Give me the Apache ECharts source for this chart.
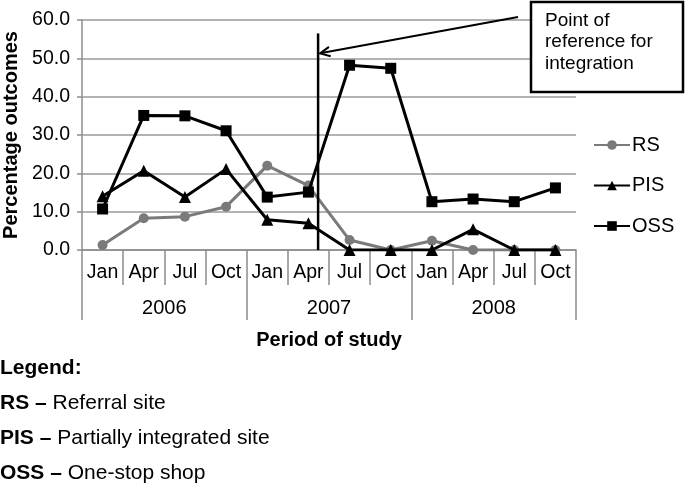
<!DOCTYPE html>
<html>
<head>
<meta charset="utf-8">
<script src="https://cdn.jsdelivr.net/npm/echarts@6/dist/echarts.min.js"></script>
<style>
html,body{margin:0;padding:0;background:#fff;}
#main{width:685px;height:486px;}
</style>
</head>
<body>
<div id="main"></div>
<script>
const months = ['Jan','Apr','Jul','Oct','Jan','Apr','Jul','Oct','Jan','Apr','Jul','Oct'];
const years = ['2006','2007','2008'];
const yTicks = [0, 10, 20, 30, 40, 50, 60];
const rsValues  = [1.3, 8.3, 8.7, 11.3, 22.0, 16.8, 2.6, 0.0, 2.4, 0.0, 0.0, 0.0];
const pisValues = [14.0, 20.7, 13.8, 21.1, 7.9, 7.0, 0.0, 0.0, 0.0, 5.4, 0.0, 0.0];
const ossValues = [10.7, 35.1, 35.0, 31.1, 13.8, 15.1, 48.2, 47.4, 12.6, 13.3, 12.6, 16.2];
const seriesNames = ['RS', 'PIS', 'OSS'];
const legendLines = [
  ['RS', 'Referral site'],
  ['PIS', 'Partially integrated site'],
  ['OSS', 'One-stop shop']
];
const annotationLines = ['Point of', 'reference for', 'integration'];
const integrationIndex = 5;     // Apr 2007
const integrationOffset = 0.235; // fraction of a category after Apr 2007 centre
const lineTopValue = 56.5;
const arrowTipValue = 51.3;

const FONT = 'Liberation Sans, Arial, Helvetica, sans-serif';
const chart = echarts.init(document.getElementById('main'), null, {renderer: 'canvas'});

const option = {
  animation: false,
  backgroundColor: '#fff',
  textStyle: {fontFamily: FONT, color: '#000'},
  grid: {left: 82, right: 109, top: 20, bottom: 236, containLabel: false, outerBoundsMode: 'none'},
  legend: {
    orient: 'vertical',
    left: 593,
    top: 135,
    padding: 0,
    itemWidth: 36,
    itemHeight: 12,
    itemGap: 20.5,
    data: seriesNames,
    textStyle: {fontFamily: FONT, fontSize: 20, color: '#000', lineHeight: 20, padding: [0,0,0,-3]}
  },
  xAxis: [{
    type: 'category',
    data: months,
    boundaryGap: true,
    axisLine: {show: true, lineStyle: {color: '#8c8c8c', width: 1.5}},
    axisTick: {show: true, interval: 0, length: 35, lineStyle: {color: '#8c8c8c', width: 1.5}},
    axisLabel: {interval: 0, margin: 13, fontSize: 19.5, color: '#000', fontFamily: FONT},
    splitLine: {show: false}
  }, {
    type: 'category',
    data: years,
    position: 'bottom',
    offset: 0,
    boundaryGap: true,
    axisLine: {show: false},
    axisTick: {show: true, interval: 0, length: 70, lineStyle: {color: '#8c8c8c', width: 1.5}},
    axisLabel: {interval: 0, margin: 48, fontSize: 20, color: '#000', fontFamily: FONT},
    name: 'Period of study',
    nameLocation: 'middle',
    nameGap: 80,
    nameTextStyle: {fontSize: 20, fontWeight: 'bold', color: '#000', fontFamily: FONT}
  }],
  yAxis: {
    type: 'value',
    min: yTicks[0],
    max: yTicks[yTicks.length - 1],
    interval: 10,
    axisLine: {show: true, lineStyle: {color: '#8c8c8c', width: 1.5}},
    axisTick: {show: true, length: 5, lineStyle: {color: '#8c8c8c', width: 1.5}},
    axisLabel: {margin: 12, fontSize: 19.5, color: '#000', fontFamily: FONT, formatter: v => v.toFixed(1)},
    splitLine: {show: true, lineStyle: {color: '#9a9a9a', width: 1.5}},
    name: 'Percentage outcomes',
    nameLocation: 'middle',
    nameRotate: 90,
    nameGap: 57,
    nameTextStyle: {fontSize: 20, fontWeight: 'bold', color: '#000', fontFamily: FONT}
  },
  series: [{
    name: seriesNames[0], type: 'line', data: rsValues,
    symbol: 'circle', symbolSize: 10,
    lineStyle: {color: '#7a7a7a', width: 3},
    itemStyle: {color: '#7a7a7a'},
    z: 2
  }, {
    name: seriesNames[1], type: 'line', data: pisValues,
    symbol: 'triangle', symbolSize: 12,
    lineStyle: {color: '#000', width: 3},
    itemStyle: {color: '#000'},
    z: 3
  }, {
    name: seriesNames[2], type: 'line', data: ossValues,
    symbol: 'rect', symbolSize: 11,
    lineStyle: {color: '#000', width: 3},
    itemStyle: {color: '#000'},
    z: 4
  }]
};
chart.setOption(option);

// Annotation graphics anchored on the axes
const c0 = chart.convertToPixel({xAxisIndex: 0, yAxisIndex: 0}, [integrationIndex, 0]);
const c1 = chart.convertToPixel({xAxisIndex: 0, yAxisIndex: 0}, [integrationIndex + 1, 0]);
const cw = c1[0] - c0[0];
const lx = c0[0] + integrationOffset * cw;
const yTop = chart.convertToPixel({yAxisIndex: 0}, lineTopValue);
const yTip = chart.convertToPixel({yAxisIndex: 0}, arrowTipValue);
const tipX = lx + 2;
const startX = 518, startY = 17;
const ang = Math.atan2(startY - yTip, startX - tipX);
const hl = 11, hw = 0.45;
const h1 = [tipX + hl * Math.cos(ang + hw), yTip + hl * Math.sin(ang + hw)];
const h2 = [tipX + hl * Math.cos(ang - hw), yTip + hl * Math.sin(ang - hw)];

const graphics = [
  {type: 'line', shape: {x1: lx, y1: yTop, x2: lx, y2: c0[1]}, style: {stroke: '#000', lineWidth: 2.5}, z: 10},
  {type: 'line', shape: {x1: startX, y1: startY, x2: tipX, y2: yTip}, style: {stroke: '#000', lineWidth: 2}, z: 10},
  {type: 'polyline', shape: {points: [h1, [tipX, yTip], h2]}, style: {stroke: '#000', lineWidth: 2, fill: null}, z: 10},
  {type: 'rect', shape: {x: 531, y: 2, width: 152, height: 90}, style: {fill: '#fff', stroke: '#000', lineWidth: 2.5}, z: 11}
];
annotationLines.forEach((t, i) => {
  graphics.push({type: 'text', left: 545, top: 11 + i * 21.5, z: 12,
    style: {text: t, fontSize: 19, fontFamily: FONT, fill: '#000'}});
});
graphics.push({type: 'text', x: 0, y: 368,
  style: {text: 'Legend:', fontSize: 21, fontWeight: 'bold', fontFamily: FONT, fill: '#000', verticalAlign: 'middle'}});
legendLines.forEach((l, i) => {
  graphics.push({type: 'text', x: 0, y: 403 + i * 35,
    style: {
      text: '{b|' + l[0] + ' \u2013}{r| ' + l[1] + '}',
      verticalAlign: 'middle',
      rich: {
        b: {fontSize: 21, fontWeight: 'bold', fontFamily: FONT, fill: '#000'},
        r: {fontSize: 21, fontFamily: FONT, fill: '#000'}
      }
    }});
});
chart.setOption({graphic: graphics});
</script>
</body>
</html>
